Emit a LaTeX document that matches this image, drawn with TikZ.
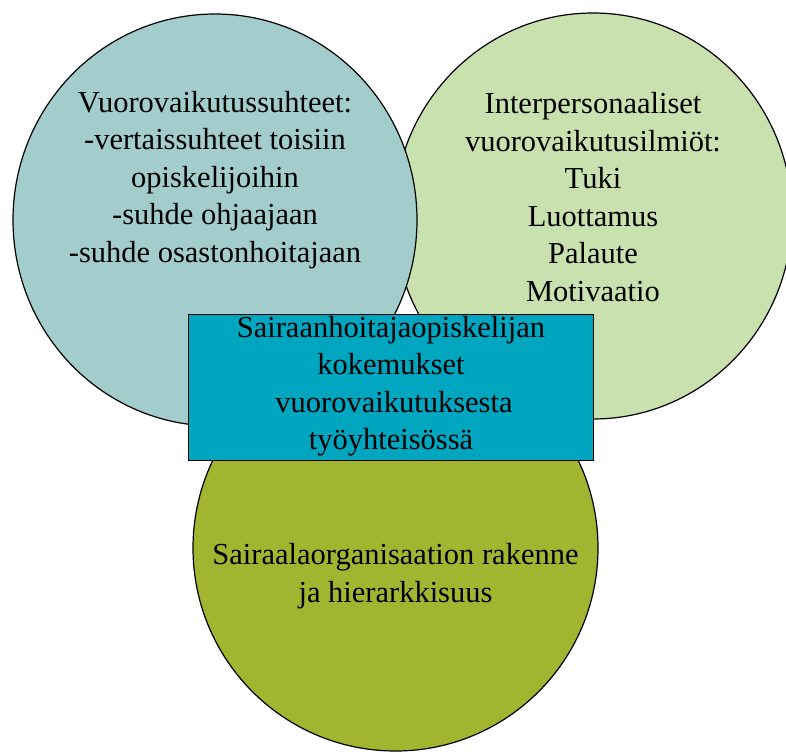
\documentclass[tikz,border=0pt]{standalone}
\usepackage{fontspec}
\setmainfont{Liberation Serif}
\definecolor{leftc}{HTML}{A3CDCD}
\definecolor{rightc}{HTML}{C9E0AF}
\definecolor{bottomc}{HTML}{A2B531}
\definecolor{rectc}{HTML}{00A6C0}
\begin{document}
\begin{tikzpicture}[x=1pt,y=-1pt,
  bubble/.style={draw=black,line width=1.2pt},
  label/.style={align=center,inner sep=0pt,font=\fontsize{30.5}{37.5}\selectfont}]
\useasboundingbox (0,0) rectangle (786,752);
\draw[bubble,fill=rightc] (593,216) ellipse [x radius=199,y radius=203];
\draw[bubble,fill=leftc] (215,220) ellipse [x radius=202,y radius=206];
\draw[bubble,fill=bottomc] (395.5,548) ellipse [x radius=202.5,y radius=203];
\node[draw=black,line width=1.2pt,fill=rectc,minimum width=405pt,minimum height=146pt,inner sep=0pt] (core) at (391,387.5) {};
\node[label] (lefttext) at (215,180) {Vuorovaikutussuhteet:\\-vertaissuhteet toisiin\\opiskelijoihin\\-suhde ohjaajaan\\-suhde osastonhoitajaan};
\node[label] (righttext) at (593,197) {Interpersonaaliset\\vuorovaikutusilmiöt:\\Tuki\\Luottamus\\Palaute\\Motivaatio};
\node[label] (coretext) at (391,386) {Sairaanhoitajaopiskelijan\\kokemukset\\\hspace*{6pt}vuorovaikutuksesta\\työyhteisössä};
\node[label] (bottomtext) at (395.5,576) {Sairaalaorganisaation rakenne\\ja hierarkkisuus};
\end{tikzpicture}
\end{document}
